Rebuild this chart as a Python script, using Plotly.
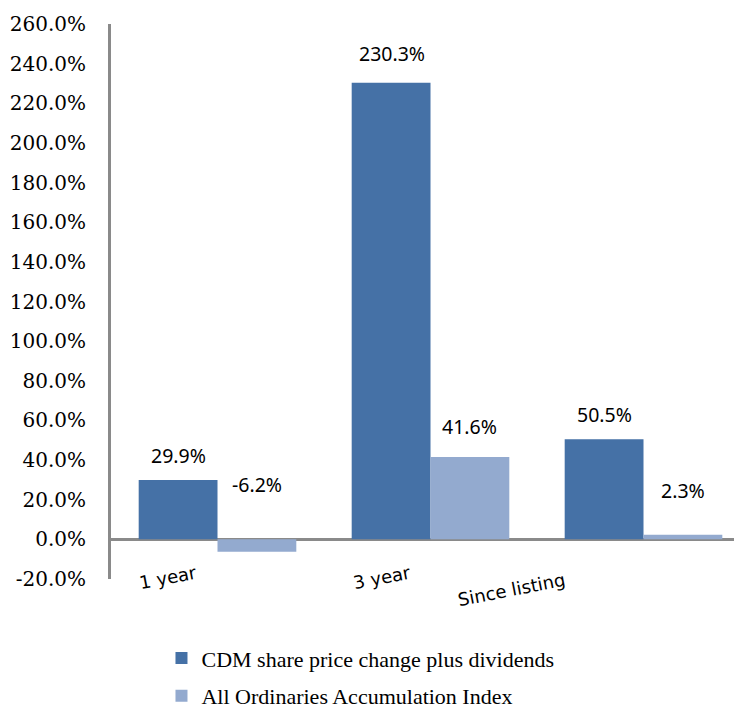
import plotly.graph_objects as go

categories = ["1 year", "3 year", "Since listing"]
series_names = ["CDM share price change plus dividends", "All Ordinaries Accumulation Index"]
cdm_values = [29.9, 230.3, 50.5]
index_values = [-6.2, 41.6, 2.3]
y_tick_values = [-20, 0, 20, 40, 60, 80, 100, 120, 140, 160, 180, 200, 220, 240, 260]
y_tick_labels = [f"{v:.1f}%" for v in y_tick_values]

colors = ["#4571A6", "#93AACF"]
label_shift = [[9, 14, 9], [39, 15, 29]]
cat_label_shift = [-50, -49, -132]

fig = go.Figure()
for name, vals, col, g in zip(series_names, [cdm_values, index_values], colors, ["a", "b"]):
    fig.add_trace(go.Bar(
        x=categories, y=vals, name=name, marker_color=col,
        marker_line_width=0, legendgroup=g, offsetgroup=g,
    ))

# data labels (placed above the bar, or above zero for negatives)
for si, vals in enumerate([cdm_values, index_values]):
    for ci, (c, v) in enumerate(zip(categories, vals)):
        fig.add_annotation(
            x=c, y=max(v, 0), text=f"{v:.1f}%", showarrow=False,
            xref="x", yref="y", yanchor="bottom",
            xshift=(-1 if si == 0 else 1) * 39, yshift=label_shift[si][ci],
            font=dict(family="Noto Sans", size=19.5, color="#000000"),
        )

# category labels (rotated)
for c, s in zip(categories, cat_label_shift):
    fig.add_annotation(
        x=c, y=0, xref="x", yref="paper", text=c, showarrow=False,
        textangle=-11, xanchor="center", yanchor="middle",
        xshift=s, yshift=2 if c != "Since listing" else -10,
        font=dict(family="DejaVu Sans", size=18, color="#000000"),
    )

fig.update_layout(
    width=742, height=700,
    margin=dict(l=103, r=0, t=16, b=129, autoexpand=False),
    plot_bgcolor="white", paper_bgcolor="white",
    barmode="group", bargap=0.26, bargroupgap=0,
    showlegend=True,
    legend=dict(
        orientation="v", x=0.079, xanchor="left", y=-0.105, yanchor="top",
        font=dict(family="Liberation Serif", size=22, color="#000000"),
        tracegroupgap=6, itemwidth=30,
    ),
    xaxis=dict(
        showline=False, showgrid=False, ticks="", showticklabels=False,
        range=[-0.5, 2.5], automargin=False,
    ),
    yaxis=dict(
        range=[-20, 260], tickvals=y_tick_values, ticktext=y_tick_labels,
        showgrid=False, showline=True, linecolor="#8A8A8A", linewidth=3,
        zeroline=True, zerolinecolor="#8A8A8A", zerolinewidth=3,
        ticks="", ticklabelstandoff=18, automargin=False,
        tickfont=dict(family="DejaVu Serif", size=20, color="#000000"),
    ),
)

fig.write_html("out.html")
